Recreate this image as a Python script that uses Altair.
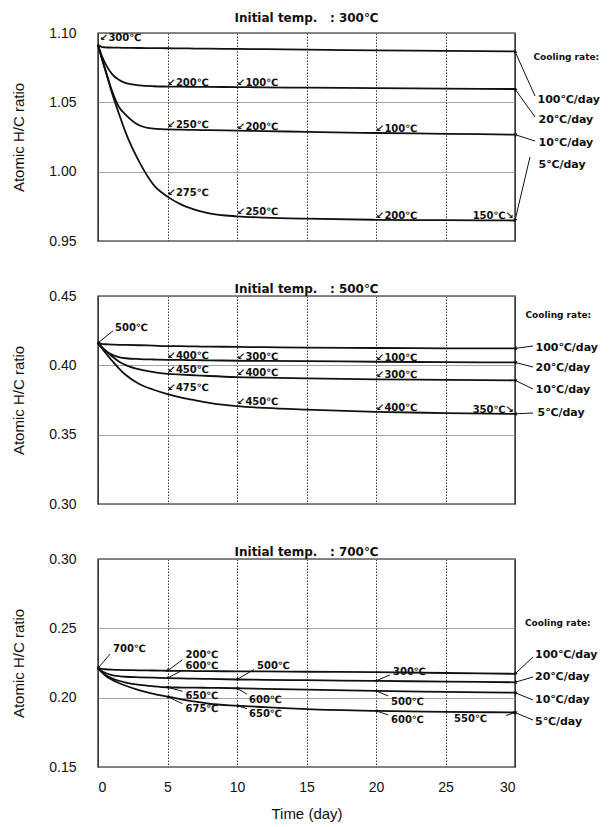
import math
import altair as alt
import pandas as pd

W, H = 417, 208
FONT = "Liberation Sans"
BFONT = "DejaVu Sans"
INK = "#111111"

days = [0, 0.25, 0.5, 1, 1.5, 2, 3, 4, 5, 6, 7, 8, 10, 12, 15, 20, 25, 30]
rates = ["100℃/day", "20℃/day", "10℃/day", "5℃/day"]
x_ticks = [0, 5, 10, 15, 20, 25, 30]

# Initial temp 300 C
hc300_100 = [1.0915, 1.0900, 1.0897, 1.0895, 1.0894, 1.0893, 1.0892, 1.0891, 1.0890, 1.0889, 1.0888, 1.0887, 1.0885, 1.0883, 1.0880, 1.0875, 1.0871, 1.0867]
hc300_20 = [1.0915, 1.0840, 1.0785, 1.0705, 1.0662, 1.0638, 1.0622, 1.0616, 1.0614, 1.0613, 1.0612, 1.0611, 1.0610, 1.0608, 1.0606, 1.0602, 1.0599, 1.0596]
hc300_10 = [1.0915, 1.0825, 1.0745, 1.0585, 1.0468, 1.0410, 1.0333, 1.0310, 1.0305, 1.0303, 1.0301, 1.0299, 1.0296, 1.0293, 1.0287, 1.0279, 1.0273, 1.0267]
hc300_5 = [1.0915, 1.0825, 1.0740, 1.0570, 1.0420, 1.0280, 1.0065, 0.9905, 0.9820, 0.9762, 0.9725, 0.9700, 0.9678, 0.9669, 0.9661, 0.9653, 0.9650, 0.9648]
y300_ticks = [0.95, 1.00, 1.05, 1.10]

# Initial temp 500 C
hc500_100 = [0.4162, 0.4155, 0.4152, 0.4150, 0.4148, 0.4147, 0.4145, 0.4142, 0.4139, 0.4138, 0.4136, 0.4135, 0.4133, 0.4131, 0.4128, 0.4125, 0.4123, 0.4122]
hc500_20 = [0.4162, 0.4132, 0.4110, 0.4077, 0.4060, 0.4051, 0.4045, 0.4042, 0.4040, 0.4039, 0.4037, 0.4036, 0.4033, 0.4032, 0.4030, 0.4026, 0.4023, 0.4021]
hc500_10 = [0.4162, 0.4135, 0.4110, 0.4065, 0.4028, 0.4002, 0.3970, 0.3951, 0.3939, 0.3933, 0.3928, 0.3923, 0.3915, 0.3911, 0.3906, 0.3899, 0.3895, 0.3892]
hc500_5 = [0.4162, 0.4127, 0.4094, 0.4035, 0.3978, 0.3930, 0.3864, 0.3824, 0.3793, 0.3768, 0.3748, 0.3730, 0.3706, 0.3693, 0.3680, 0.3664, 0.3656, 0.3650]
y500_ticks = [0.30, 0.35, 0.40, 0.45]

# Initial temp 700 C
hc700_100 = [0.2213, 0.2207, 0.2205, 0.2202, 0.2200, 0.2199, 0.2197, 0.2196, 0.2194, 0.2193, 0.2192, 0.2191, 0.2190, 0.2189, 0.2187, 0.2184, 0.2178, 0.2172]
hc700_20 = [0.2213, 0.2193, 0.2180, 0.2163, 0.2156, 0.2151, 0.2147, 0.2144, 0.2141, 0.2139, 0.2137, 0.2135, 0.2131, 0.2129, 0.2126, 0.2121, 0.2116, 0.2111]
hc700_10 = [0.2213, 0.2188, 0.2167, 0.2140, 0.2122, 0.2109, 0.2092, 0.2082, 0.2075, 0.2073, 0.2072, 0.2071, 0.2068, 0.2064, 0.2058, 0.2049, 0.2042, 0.2036]
hc700_5 = [0.2213, 0.2186, 0.2162, 0.2130, 0.2106, 0.2086, 0.2053, 0.2027, 0.2007, 0.1988, 0.1971, 0.1956, 0.1942, 0.1932, 0.1918, 0.1905, 0.1898, 0.1893]
y700_ticks = [0.15, 0.20, 0.25, 0.30]

# temperature notes: (curve index, day, text, placement, text dx px, text dy px, leader dx px, leader dy px)
notes300 = [
    (0, 0, "↙300℃", "ne", 2, -4, 0, 0),
    (1, 5, "↙200℃", "ne", 0, -1, 0, 0),
    (1, 10, "↙100℃", "ne", 0, -1, 0, 0),
    (2, 5, "↙250℃", "ne", 0, -1, 0, 0),
    (2, 10, "↙200℃", "ne", 0, -1, 0, 0),
    (2, 20, "↙100℃", "ne", 0, -1, 0, 0),
    (3, 5, "↙275℃", "ne", 0, -1, 0, 0),
    (3, 10, "↙250℃", "ne", 0, -1, 0, 0),
    (3, 20, "↙200℃", "ne", 0, -1, 0, 0),
    (3, 30, "150℃↘", "nw", -1, -1, 0, 0),
]
notes500 = [
    (0, 0, "500℃", "ne", 17, -12, 15, -12),
    (1, 5, "↙400℃", "ne", 0, -1, 0, 0),
    (1, 10, "↙300℃", "ne", 0, -1, 0, 0),
    (1, 20, "↙100℃", "ne", 0, -1, 0, 0),
    (2, 5, "↙450℃", "ne", 0, -1, 0, 0),
    (2, 10, "↙400℃", "ne", 0, -1, 0, 0),
    (2, 20, "↙300℃", "ne", 0, -1, 0, 0),
    (3, 5, "↙475℃", "ne", 0, -3, 0, 0),
    (3, 10, "↙450℃", "ne", 0, -1, 0, 0),
    (3, 20, "↙400℃", "ne", 0, -1, 0, 0),
    (3, 30, "350℃↘", "nw", -1, -1, 0, 0),
]
notes700 = [
    (0, 0, "700℃", "ne", 15, -16, 12, -14),
    (0, 5, "200℃", "ne", 18, -13, 15, -11),
    (1, 5, "600℃", "ne", 18, -9, 15, -8),
    (1, 10, "500℃", "ne", 20, -11, 17, -10),
    (1, 20, "300℃", "ne", 17, -6, 14, -6),
    (2, 5, "650℃", "se", 18, 4, 15, 4),
    (3, 5, "675℃", "se", 18, 7, 15, 7),
    (2, 10, "600℃", "se", 12, 7, 10, 6),
    (3, 10, "650℃", "se", 12, 3, 10, 3),
    (2, 20, "500℃", "se", 15, 6, 12, 5),
    (3, 20, "600℃", "se", 15, 4, 12, 4),
    (3, 30, "550℃", "sw", -28, 1, -9, 3),
]

# right-side legend (px from plot left/top): "Cooling rate:" spot, label spots, leader ends
legend300 = dict(cool=(435.5, 24), labels=[(439.5, 67), (440.5, 87), (440.5, 110), (440.5, 132)],
                 ends=[(437, 63), (437, 84), (437, 108), (432, 124)])
legend500 = dict(cool=(427.5, 19), labels=[(437.5, 52), (437.5, 72), (437.5, 94), (439.5, 117)],
                 ends=[(435, 50), (435, 71), (435, 93), (435, 117)])
legend700 = dict(cool=(427, 64), labels=[(437, 96), (437, 118), (437, 141), (437, 163)],
                 ends=[(435, 98), (435, 118), (435, 141), (435, 161)])

PLACE = {"ne": ("left", "alphabetic"), "se": ("left", "top"),
         "nw": ("right", "alphabetic"), "sw": ("right", "top")}


def panel(title, curves, yticks, notes, legend, title_offset, show_x):
    ymin, ymax = yticks[0], yticks[-1]
    span = ymax - ymin
    kx = 30.0 / W
    ky = span / H
    xs = alt.Scale(domain=[0, 30], nice=False, zero=False)
    ys = alt.Scale(domain=[ymin, ymax], nice=False, zero=False)
    xax = alt.Axis(values=x_ticks, grid=True, gridDash=[1.5, 1.5], gridColor="#333333", gridWidth=1,
                   domain=False, ticks=False, labels=show_x, title="Time (day)" if show_x else "",
                   labelFont=FONT, labelFontSize=14, labelPadding=13, labelColor=INK,
                   titleFont=FONT, titleFontSize=15, titleFontWeight="normal", titlePadding=12,
                   titleColor=INK)
    yax = alt.Axis(values=yticks, format=".2f", grid=True, gridColor="#8c8c8c", gridWidth=0.8,
                   domain=False, ticks=False, labelFont=FONT, labelFontSize=14, labelPadding=22,
                   labelColor=INK, title="Atomic H/C ratio", titleFont=FONT, titleFontSize=15,
                   titleFontWeight="normal", titlePadding=22, titleColor=INK)

    def X(f):
        return alt.X(f, type="quantitative", scale=xs, axis=xax)

    def Y(f):
        return alt.Y(f, type="quantitative", scale=ys, axis=yax)

    recs = [dict(day=d, hc=v, rate=r) for r, vals in zip(rates, curves) for d, v in zip(days, vals)]
    df = pd.DataFrame(recs)
    layers = [alt.Chart(df).mark_line(color=INK, strokeWidth=1.8, interpolate="monotone").encode(
        x=X("day"), y=Y("hc"), detail="rate:N")]

    nrecs = []
    for ri, d, lab, kind, tox, toy, lx, ly in notes:
        v = curves[ri][days.index(d)]
        nrecs.append(dict(day=d, hc=v, tx=d + tox * kx, ty=v - toy * ky, lab=lab, kind=kind,
                          ex=d + lx * kx, ey=v - ly * ky, lead=(lx != 0 or ly != 0),
                          ang=math.degrees(math.atan2(-lx, ly)) % 360))
    ndf = pd.DataFrame(nrecs)
    for kind, (al, bl) in PLACE.items():
        sub = ndf[ndf["kind"] == kind]
        if len(sub) == 0:
            continue
        layers.append(alt.Chart(sub).mark_text(align=al, baseline=bl, font=BFONT, fontSize=10,
                                               fontWeight="bold", color=INK).encode(
            x=X("tx"), y=Y("ty"), text="lab:N"))
    lead = ndf[ndf["lead"]]
    if len(lead):
        layers.append(alt.Chart(lead).mark_rule(color=INK, strokeWidth=1).encode(
            x=X("day"), y=Y("hc"), x2="ex:Q", y2="ey:Q"))
        layers.append(alt.Chart(lead).mark_point(shape="triangle-up", filled=True, size=14,
                                                 color=INK, opacity=1).encode(
            x=X("day"), y=Y("hc"), angle=alt.Angle("ang:Q", scale=None)))

    lrecs = []
    for i, r in enumerate(rates):
        endv = curves[i][-1]
        (px, py), (ax, ay) = legend["labels"][i], legend["ends"][i]
        pend = (ymax - endv) / ky
        ang = math.degrees(math.atan2(-(ax - W), ay - pend)) % 360
        lrecs.append(dict(lab=r, lx=px * kx, ly=ymax - py * ky, sx=30, sy=endv,
                          ex=ax * kx, ey=ymax - ay * ky, ang=ang))
    ldf = pd.DataFrame(lrecs)
    layers.append(alt.Chart(ldf).mark_text(align="left", baseline="middle", font=BFONT, fontSize=11,
                                           fontWeight="bold", color=INK).encode(
        x=X("lx"), y=Y("ly"), text="lab:N"))
    layers.append(alt.Chart(ldf).mark_rule(color=INK, strokeWidth=1).encode(
        x=X("sx"), y=Y("sy"), x2="ex:Q", y2="ey:Q"))
    layers.append(alt.Chart(ldf).mark_point(shape="triangle-up", filled=True, size=16, color=INK,
                                            opacity=1).encode(
        x=X("sx"), y=Y("sy"), angle=alt.Angle("ang:Q", scale=None)))
    cx, cy = legend["cool"]
    cdf = pd.DataFrame([dict(lab="Cooling rate:", cx=cx * kx, cy=ymax - cy * ky)])
    layers.append(alt.Chart(cdf).mark_text(align="left", baseline="middle", font=BFONT, fontSize=9,
                                           fontWeight="bold", color=INK).encode(
        x=X("cx"), y=Y("cy"), text="lab:N"))

    return alt.layer(*layers).properties(
        width=W, height=H,
        title=alt.TitleParams(title, font=BFONT, fontSize=12, fontWeight="bold", color=INK,
                              offset=title_offset, anchor="middle"))


p1 = panel("Initial temp.\u00a0\u00a0 : 300℃", [hc300_100, hc300_20, hc300_10, hc300_5], y300_ticks,
           notes300, legend300, 1, False)
p2 = panel("Initial temp.\u00a0\u00a0 : 500℃", [hc500_100, hc500_20, hc500_10, hc500_5], y500_ticks,
           notes500, legend500, -7, False)
p3 = panel("Initial temp.\u00a0\u00a0 : 700℃", [hc700_100, hc700_20, hc700_10, hc700_5], y700_ticks,
           notes700, legend700, -7, True)

chart = alt.vconcat(p1, p2, p3, spacing=55, bounds="flush").properties(
    padding={"left": 3, "top": 3, "right": 0, "bottom": 4}, background="white"
).configure_view(stroke=INK, strokeWidth=1.4)

chart.save("out.html", embed_options={"renderer": "svg", "actions": False})
